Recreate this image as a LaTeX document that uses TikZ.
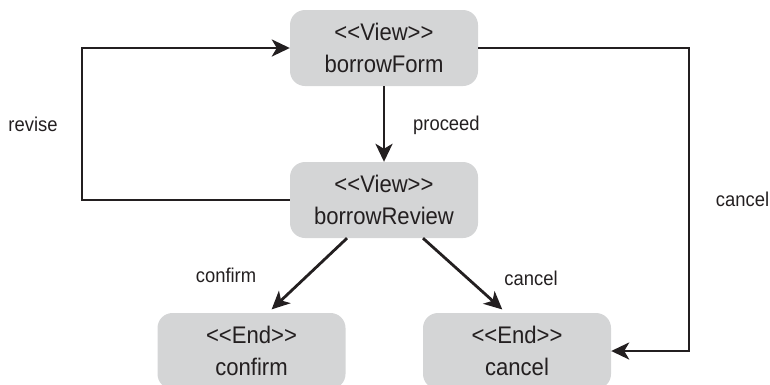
\documentclass[tikz,border=0pt]{standalone}
\usepackage{fontspec}
\setmainfont[FakeStretch=0.92]{Liberation Sans}
\usetikzlibrary{arrows.meta,calc}
\definecolor{boxgray}{RGB}{212,213,214}
\definecolor{ink}{RGB}{35,31,32}
\tikzset{
  state/.style={draw=none, fill=boxgray, rounded corners=15pt, minimum width=188pt, minimum height=76pt, inner sep=0pt, align=center, text=ink, font=\fontsize{24}{32}\selectfont},
  conn/.style={draw=ink, line width=2.8pt, -{Stealth[length=18pt,width=17pt,inset=5pt]}},
  lbl/.style={text=ink, font=\fontsize{20}{24}\selectfont, inner sep=0pt}
}
\begin{document}
\begin{tikzpicture}[x=1pt,y=-1pt]
\useasboundingbox (0,0) rectangle (770,384);
\node[state] (form) at (384,48) {<{}<View>{}>\\borrowForm};
\node[state] (review) at (384,200) {<{}<View>{}>\\borrowReview};
\node[state] (confirm) at (251.5,351) {<{}<End>{}>\\confirm};
\node[state] (cancelE) at (517,351) {<{}<End>{}>\\cancel};

\coordinate (revL) at (82,0);
\coordinate (canR) at (689,0);

\draw[conn] (form.south) -- (review.north);
\draw[conn] (review.west) -- (review.west -| revL) -- (form.west -| revL) -- (form.west);
\draw[conn, shorten >=5pt] ($(review.south)+(-37,0)$) -- ($(confirm.north)+(16.5,0)$);
\draw[conn, shorten >=5pt] ($(review.south)+(39,0)$) -- ($(cancelE.north)+(-11,0)$);
\draw[conn] (form.east) -- (form.east -| canR) -- (cancelE.east -| canR) -- (cancelE.east);

\node[lbl] (lrevise) at (33,124) {revise};
\node[lbl, anchor=west] (lproceed) at (413,125) {proceed};
\node[lbl] (lconfirm) at (226,275) {confirm};
\node[lbl] (lcancel1) at (531,278) {cancel};
\node[lbl] (lcancel2) at (742.5,199) {cancel};
\end{tikzpicture}
\end{document}
